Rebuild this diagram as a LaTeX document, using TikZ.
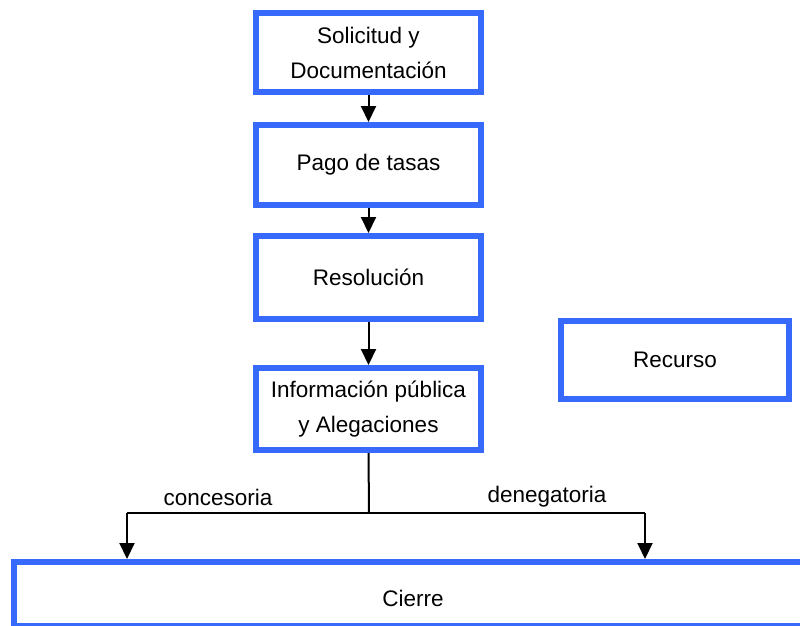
\documentclass[tikz,border=0pt]{standalone}
\usepackage{fontspec}
\setmainfont{Liberation Sans}
\usetikzlibrary{arrows.meta}
\definecolor{boxblue}{RGB}{55,105,250}
\begin{document}
\begin{tikzpicture}[x=1pt,y=-1pt,
  every node/.style={font=\fontsize{22.5}{35}\selectfont, text=black},
  stage/.style={draw=boxblue, line width=6pt, fill=white, align=center,
    inner sep=0pt, minimum width=225pt},
  flow/.style={line width=2pt, -{Triangle[length=16pt,width=15pt]}},
  link/.style={line width=2pt}]
  \useasboundingbox[fill=white] (0,0) rectangle (800,625);

  % main sequence of stages
  \node[stage, minimum height=79pt] (sol) at (368.5,52.5) {Solicitud y\\Documentación};
  \node[stage, minimum height=80pt] (pago) at (368.5,165) {Pago de tasas};
  \node[stage, minimum height=83pt] (res) at (368.5,277.5) {Resolución};
  \node[stage, minimum height=82pt] (info) at (368.5,409) {Información pública\\y Alegaciones};
  \node[stage, minimum width=228pt, minimum height=78pt] (rec) at (675,360) {Recurso};
  \node[stage, minimum width=801pt, minimum height=64pt] (cie) at (414.5,594) {};
  \node at (413,598) (cietxt) {Cierre};

  \draw[flow] (sol) -- (pago);
  \draw[flow] (pago) -- (res);
  \draw[flow] (res) -- (info);

  % branching to the closing stage
  \coordinate (fork) at (369,513);
  \coordinate (left) at (127,513);
  \coordinate (right) at (645,513);
  \draw[link] (info.south) -- (fork);
  \draw[link] (left) -- (right);
  \draw[flow] (left) -- (left |- cie.north);
  \draw[flow] (right) -- (right |- cie.north);
  \node (con) at (218,497) {concesoria};
  \node (den) at (547,497) {denegatoria};
\end{tikzpicture}
\end{document}
